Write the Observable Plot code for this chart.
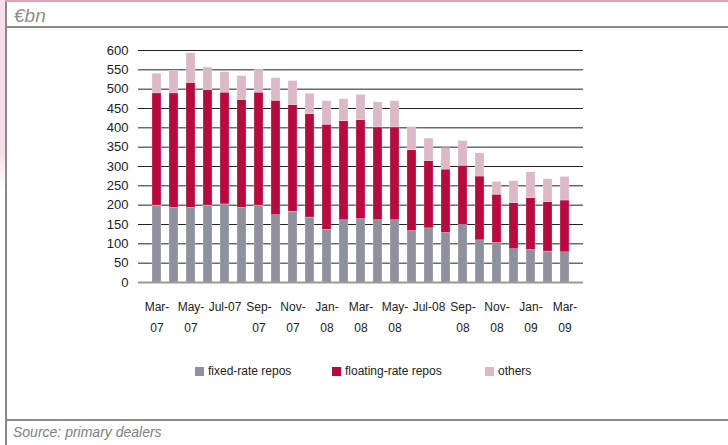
<!DOCTYPE html>
<html>
<head>
<meta charset="utf-8">
<script src="https://cdn.jsdelivr.net/npm/d3@7"></script>
<script src="https://cdn.jsdelivr.net/npm/@observablehq/plot@0.6"></script>
<style>
  html, body { margin: 0; padding: 0; background: #fff; }
  #frame { position: relative; width: 728px; height: 445px; overflow: hidden; font-family: "Liberation Sans", Arial, sans-serif; }
  .abs { position: absolute; }
  .leg { position: absolute; top: 363px; font-size: 12px; color: #222; line-height: 16px; white-space: nowrap; }
  .sw { display: inline-block; width: 9px; height: 9px; vertical-align: -1px; margin-right: 4px; }
</style>
</head>
<body>
<div id="frame">
  <div class="abs" style="left:0;top:0;width:5px;height:190px;background:linear-gradient(#f6dfe8 80%, #fff);"></div>
  <div class="abs" style="left:5px;top:0;width:2px;height:445px;background:#8a8a8a;"></div>
  <div class="abs" style="left:5px;top:0;width:723px;height:2px;background:#dca4b7;"></div>
  <div class="abs" style="left:5px;top:26px;width:723px;height:2px;background:#8a8a8a;"></div>
  <div class="abs" style="left:5px;top:419px;width:723px;height:2px;background:#8a8a8a;"></div>
  <div class="abs" style="left:14px;top:5px;font-size:19px;font-style:italic;color:#8c8c8c;">€bn</div>
  <div class="abs" style="left:13px;top:424px;font-size:14px;font-style:italic;color:#808080;">Source: primary dealers</div>
  <div id="chart" class="abs" style="left:0;top:30px;"></div>
  <div class="leg" style="left:195px;"><span class="sw" style="background:#8f929e"></span>fixed-rate repos</div>
  <div class="leg" style="left:332px;"><span class="sw" style="background:#b9093d"></span>floating-rate repos</div>
  <div class="leg" style="left:485px;"><span class="sw" style="background:#ddb8c6"></span>others</div>
</div>
<script>
const months = ["Mar-07","Apr-07","May-07","Jun-07","Jul-07","Aug-07","Sep-07","Oct-07","Nov-07","Dec-07",
  "Jan-08","Feb-08","Mar-08","Apr-08","May-08","Jun-08","Jul-08","Aug-08","Sep-08","Oct-08",
  "Nov-08","Dec-08","Jan-09","Feb-09","Mar-09"];
const tickLabels = {"Mar-07":"Mar-\n07","May-07":"May-\n07","Jul-07":"Jul-07","Sep-07":"Sep-\n07","Nov-07":"Nov-\n07",
  "Jan-08":"Jan-\n08","Mar-08":"Mar-\n08","May-08":"May-\n08","Jul-08":"Jul-08","Sep-08":"Sep-\n08",
  "Nov-08":"Nov-\n08","Jan-09":"Jan-\n09","Mar-09":"Mar-\n09"};
const fixedRate = [199,193,193,199,202,193,199,174,183,168,136,161,164,161,161,133,140,128,149,109,102,86,84,80,78];
const floatingRate = [290,296,323,298,289,279,292,296,276,267,272,256,256,240,240,209,174,164,153,165,125,119,134,128,134];
const others = [51,58,77,59,53,62,59,58,62,53,61,57,65,65,68,60,58,55,64,60,33,57,67,59,61];
const seriesNames = ["fixed-rate repos","floating-rate repos","others"];
const seriesColors = ["#8f929e","#b9093d","#ddb8c6"];
const yTicks = [0,50,100,150,200,250,300,350,400,450,500,550,600];

const seriesValues = [fixedRate, floatingRate, others];
const data = [];
seriesNames.forEach((s, k) => months.forEach((m, i) => data.push({month: m, series: s, value: seriesValues[k][i]})));

const chart = Plot.plot({
  width: 728,
  height: 310,
  marginLeft: 138,
  marginRight: 145,
  marginTop: 20,
  marginBottom: 58,
  style: {fontFamily: "'Liberation Sans', Arial, sans-serif", color: "#222", background: "transparent"},
  x: {type: "band", domain: months, paddingInner: 0.49, paddingOuter: 0.28, label: null},
  y: {domain: [0, 600], label: null},
  color: {domain: seriesNames, range: seriesColors},
  marks: [
    Plot.ruleY(yTicks.filter(d => d > 0), {stroke: "#222", strokeWidth: 1}),
    Plot.barY(data, {x: "month", y: "value", fill: "series", order: seriesNames, stroke: "#fff", strokeWidth: 0.4, strokeOpacity: 0.6}),
    Plot.ruleY([0], {stroke: "#999", strokeWidth: 2}),
    Plot.axisY({ticks: yTicks, tickSize: 0, tickPadding: 10, fontSize: 13, label: null}),
    Plot.axisX({tickSize: 0, tickPadding: 14, fontSize: 12, lineHeight: 1.75, label: null,
      tickFormat: d => tickLabels[d] ?? ""})
  ]
});
document.getElementById("chart").appendChild(chart);
</script>
</body>
</html>
